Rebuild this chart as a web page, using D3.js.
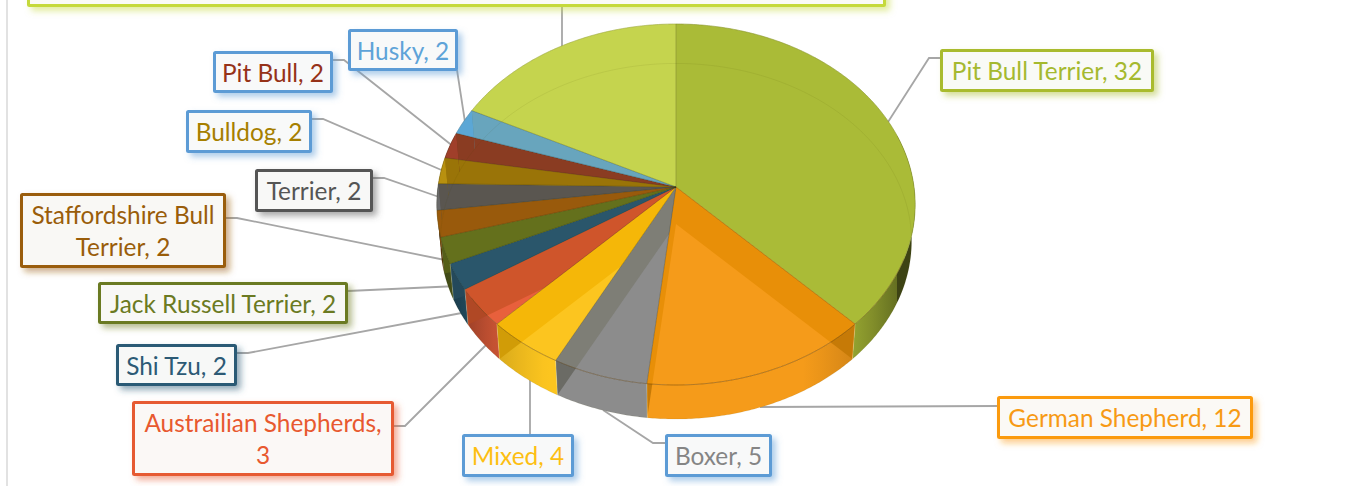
<!DOCTYPE html>
<html>
<head>
<meta charset="utf-8">
<script src="https://cdn.jsdelivr.net/npm/d3@7"></script>
<style>html,body{margin:0;padding:0;background:#fff;overflow:hidden}svg{display:block}</style>
</head>
<body>
<svg id="c" width="1346" height="486"></svg>
<script>
// ---- data ----
const categories = ["Pit Bull Terrier","German Shepherd","Boxer","Mixed","Austrailian Shepherds","Shi Tzu","Jack Russell Terrier","Staffordshire Bull Terrier","Terrier","Bulldog","Pit Bull","Husky",null];
const values = [32,12,5,4,3,2,2,2,2,2,2,2,15];
// ---- styles ----
const topColors  = ["#aabb37","#f59b1a","#8c8c8c","#fcc51f","#e8603c","#2f6a85","#75872a","#a86c10","#6a6a6a","#b8900f","#a03f2a","#5ba7d6","#c5d44e"];
const bandColors = ["#aabb37","#e88f08","#7e7e76","#f5b708","#cf552b","#2a566b","#64701c","#995a0c","#5a5650","#9a7408","#8a3c22","#68a5bd","#c5d44e"];
const textColors = ["#a5b92f","#f79a14","#858585","#fdbf12","#e8592f","#2c5a75","#6b7a22","#9a5d0a","#555555","#a67f00","#963218","#5ea3d8","#c5d93a"];
const boxBorders = ["#a9bb2f","#fb9a0c","#5b9bd5","#5b9bd5","#e65a30","#2c5a75","#6b7a22","#9a5d0a","#555555","#5b9bd5","#5b9bd5","#5b9bd5","#c5d93a"];
// ---- layout ----
const boxes = [[940,49,1154,92],[997,396,1253,439],[665,434,772,477],[462,434,574,477],[132,401,394,476],[116,344,237,386],[98,282,348,324],[20,193,226,268],[255,169,373,212],[186,110,312,153],[213,51,333,93],[348,29,458,71],[27,-40,886,7]];
const leaders = [
 [[940,58],[929,58],[888,122]],[[997,406],[760,407]],[[665,443],[653,443],[603,410]],[[530,434],[530,378]],
 [[394,426],[405,426],[487,344]],[[237,353],[248,353],[467,312]],[[348,291],[458,286]],[[226,218],[237,218],[450,261]],
 [[373,178],[384,178],[442,198]],[[312,119],[323,119],[446,172]],[[333,60],[344,60],[454,147]],[[457,70],[465,122]],[[562,7],[562,50]]
];
const firstLines = {"Staffordshire Bull Terrier":"Staffordshire Bull","Austrailian Shepherds":"Austrailian Shepherds,"};

const svg = d3.select("#c");
const defs = svg.append("defs");
svg.append("rect").attr("width",1346).attr("height",486).attr("fill","#fff");
svg.append("line").attr("x1",7).attr("x2",7).attr("y1",0).attr("y2",486).attr("stroke","#d9d9d9").attr("stroke-width",1.5);

// perspective disc
const cx=676, cy=187, k=-0.097, a=178.8, b=238, s=0.985, dy=37;
const proj=(t,lvl)=>{const u=Math.sin(t),v=-Math.cos(t),w=1+k*v;
  const x=b*u/w,y=a*v/w;
  return lvl? [cx+s*x,cy+dy+s*y]:[cx+x,cy+y];};
const vtx=lvl=>lvl?[cx,cy+dy]:[cx,cy];
const samples=(t0,t1,lvl)=>{const n=Math.max(2,Math.ceil(Math.abs(t1-t0)/0.01));
  return d3.range(n+1).map(i=>proj(t0+(t1-t0)*i/n,lvl));};
const line=d3.line();
const closed=p=>line(p)+"Z";

const arcs=d3.pie().sort(null).value(d=>d)(values);

// leaders
svg.append("g").selectAll("path").data(leaders).join("path")
  .attr("d",d=>line(d)).attr("fill","none").attr("stroke","#a6a6a6").attr("stroke-width",1.8);

const sector=d=>closed([vtx(0),...samples(d.startAngle,d.endAngle,0)]);
const side=d=>closed([...samples(d.startAngle,d.endAngle,0),...samples(d.endAngle,d.startAngle,1)]);

// side wall, one path per slice, shaded along x
const shade=d3.scaleLinear().domain([0,30,45,60,90,180]).range([1,1,.85,.62,.36,.36]).clamp(true);
const wall=svg.append("g");
arcs.forEach((d,i)=>{
  const vis0=Math.max(d.startAngle,Math.PI/2-.3), vis1=Math.min(d.endAngle,Math.PI*1.5+.3);
  if(vis1<=vis0) return;
  const n=10;
  const ts=d3.range(n+1).map(j=>vis0+(vis1-vis0)*j/n);
  const x0=proj(vis0,0)[0], x1=proj(vis1,0)[0];
  const g=defs.append("linearGradient").attr("id","w"+i).attr("gradientUnits","userSpaceOnUse")
    .attr("x1",x0).attr("x2",x1).attr("y1",0).attr("y2",0);
  ts.forEach(t=>{
    g.append("stop").attr("offset",(proj(t,0)[0]-x0)/(x1-x0))
     .attr("stop-color",d3.interpolateRgb("#000",topColors[i])(shade(Math.abs(t-Math.PI)*180/Math.PI)));
  });
  wall.append("path").attr("d",closed([...samples(vis0,vis1,0),...samples(vis1,vis0,1)])).attr("fill",`url(#w${i})`);
});

// top faces
svg.append("g").selectAll("path").data(arcs).join("path")
  .attr("d",sector).attr("fill",(d,i)=>topColors[i]).attr("stroke",(d,i)=>topColors[i]).attr("stroke-width",.5);

// radial inner walls seen through the translucent top
const bands=svg.append("g");
arcs.forEach((d,i)=>{
  if(i===0||i===arcs.length-1) return;
  const edges=[d.endAngle]; if(d.startAngle<Math.PI) edges.push(d.startAngle);
  defs.append("clipPath").attr("id","ct"+i).append("path").attr("d",sector(d));
  defs.append("clipPath").attr("id","cs"+i).append("path").attr("d",side(d));
  edges.forEach(t=>{
    const q=closed([vtx(0),proj(t,0),proj(t,1),vtx(1)]);
    bands.append("path").attr("d",q).attr("fill",bandColors[i]).attr("clip-path",`url(#ct${i})`);
    bands.append("path").attr("d",q).attr("fill",d3.color(bandColors[i]).darker(.45)).attr("clip-path",`url(#cs${i})`);
  });
});

// fine lines
svg.append("path").attr("d",closed(samples(0,2*Math.PI,1))).attr("fill","none").attr("stroke","rgba(60,70,0,.08)").attr("stroke-width",1);
svg.append("g").selectAll("path").data(arcs).join("path")
  .attr("d",d=>line([vtx(0),proj(d.startAngle,0)])).attr("fill","none").attr("stroke","rgba(50,50,20,.28)").attr("stroke-width",1);
svg.append("path").attr("d",line(samples(Math.PI/2+.4,Math.PI*1.3,0))).attr("fill","none").attr("stroke","rgba(110,60,0,.3)").attr("stroke-width",1);
svg.append("path").attr("d",line(samples(0,2*Math.PI,0))).attr("fill","none").attr("stroke","rgba(60,60,30,.25)").attr("stroke-width",.7);
svg.append("g").selectAll("path").data(arcs.filter(d=>d.startAngle>Math.PI/2&&d.startAngle<Math.PI*1.4)).join("path")
  .attr("d",d=>line([proj(d.startAngle,0),proj(d.startAngle,1)])).attr("stroke","rgba(255,255,200,.25)").attr("fill","none");

// labels
boxes.forEach((r,i)=>{
  const col=boxBorders[i];
  const f=defs.append("filter").attr("id","sh"+i).attr("x","-10%").attr("y","-30%").attr("width","125%").attr("height","170%");
  f.append("feDropShadow").attr("dx",4).attr("dy",4).attr("stdDeviation",3).attr("flood-color",col).attr("flood-opacity",.5);
  const g=svg.append("g");
  g.append("rect").attr("x",r[0]+1.5).attr("y",r[1]+1.5).attr("width",r[2]-r[0]-3).attr("height",r[3]-r[1]-3).attr("rx",1)
    .attr("fill",d3.interpolateRgb("#fbfbfa",col)(.02)).attr("stroke",col).attr("stroke-width",3).attr("filter",`url(#sh${i})`);
  if(!categories[i]) return;
  const full=`${categories[i]}, ${values[i]}`;
  const fl=firstLines[categories[i]];
  const lines=fl?[fl,full.slice(fl.length).trim()]:[full];
  const mid=(r[0]+r[2])/2, cyy=(r[1]+r[3])/2, lh=32;
  lines.forEach((t,j)=>{
    g.append("text").attr("x",mid).attr("y",cyy+(j-(lines.length-1)/2)*lh+9.5)
      .attr("text-anchor","middle").attr("font-family","Lato, 'Open Sans', sans-serif").attr("font-size",24.4)
      .attr("fill",textColors[i]).text(t);
  });
});
</script>
</body>
</html>
